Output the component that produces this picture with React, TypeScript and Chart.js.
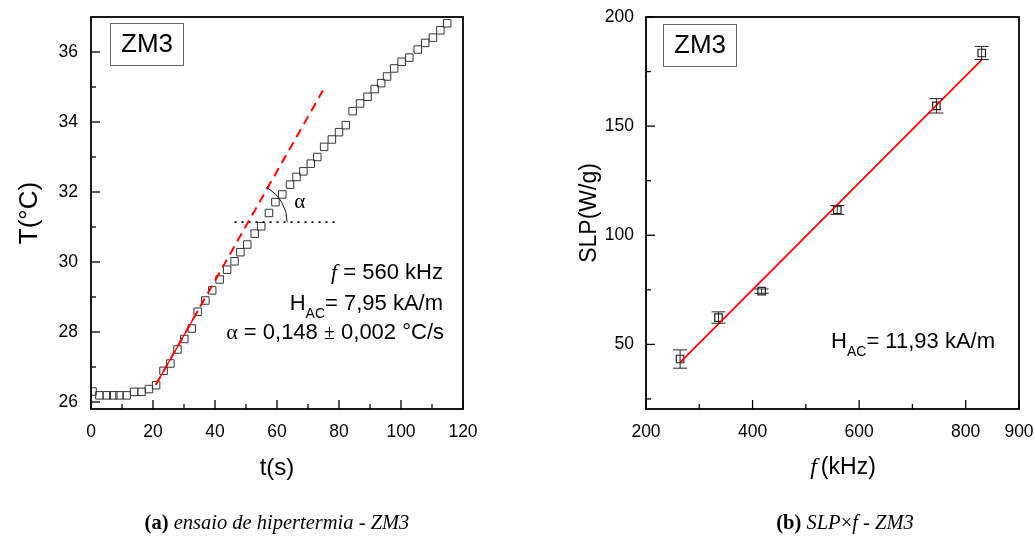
import React, { useEffect, useRef } from "react";
import { Chart, registerables } from "chart.js";

Chart.register(...registerables);

// ---------- Left panel: heating curve (ZM3) ----------
const timeS = [
  0.5, 2.7, 5.1, 7.2, 9.2, 11.5, 13.9, 16.3, 18.7, 21.0, 23.4, 25.6, 27.9, 30.1, 32.5, 34.4,
  36.9, 39.1, 41.5, 43.9, 46.3, 48.2, 50.4, 52.8, 54.9, 57.4, 59.5, 61.7, 64.2, 66.3, 68.5,
  70.9, 73.0, 75.2, 77.7, 80.0, 82.2, 84.4, 86.8, 89.2, 91.5, 93.6, 95.5, 97.8, 100.2, 102.7,
  105.4, 107.8, 110.3, 112.7, 114.9,
];
const tempC = [
  26.3, 26.19, 26.19, 26.19, 26.19, 26.19, 26.29, 26.29, 26.37, 26.48, 26.89, 27.1, 27.5, 27.8,
  28.1, 28.58, 28.9, 29.19, 29.5, 29.78, 30.02, 30.28, 30.5, 30.81, 31.02, 31.4, 31.71, 31.93,
  32.21, 32.43, 32.59, 32.81, 33.0, 33.29, 33.5, 33.71, 33.91, 34.31, 34.53, 34.72, 34.94,
  35.11, 35.3, 35.53, 35.72, 35.84, 36.07, 36.26, 36.41, 36.62, 36.82,
];
const fitTime = [20.9, 74.8];
const fitTemp = [26.49, 34.9];
const fitSolidTime = [20.9, 34.5];
const fitSolidTemp = [26.49, 28.61];
const refTime = [46.3, 79.3];
const refTemp = [31.14, 31.14];
const angleVertex = [50.7, 31.14];
const alphaLabelPos = [67.3, 31.69];

const leftXTicks = [0, 20, 40, 60, 80, 100, 120];
const leftXMinor = [10, 30, 50, 70, 90, 110];
const leftYTicks = [26, 28, 30, 32, 34, 36];
const leftYMinor = [27, 29, 31, 33, 35];

// ---------- Right panel: SLP x f ----------
const freqKHz = [264, 336, 417, 559, 745, 830];
const slpWg = [43.3, 62.3, 74.4, 111.6, 159.3, 183.5];
const slpErr = [4.2, 2.6, 1.0, 2.0, 3.3, 3.0];
const slpFitF = [264, 830];
const slpFitY = [41.8, 180.4];

const rightXTicks = [200, 400, 600, 800, 900];
const rightXMinor = [300, 500, 700];
const rightYTicks = [50, 100, 150, 200];
const rightYMinor = [25, 75, 125, 175];

const SANS = "'Liberation Sans', Arial, Helvetica, sans-serif";
const SERIF = "'Liberation Serif', 'Times New Roman', serif";

type Seg = { text: string; font: string; dy?: number };

function drawSegs(ctx: CanvasRenderingContext2D, segs: Seg[], xRight: number, baseline: number) {
  let w = 0;
  for (const s of segs) {
    ctx.font = s.font;
    w += ctx.measureText(s.text).width;
  }
  let x = xRight - w;
  ctx.textAlign = "left";
  ctx.textBaseline = "alphabetic";
  ctx.fillStyle = "#000";
  for (const s of segs) {
    ctx.font = s.font;
    ctx.fillText(s.text, x, baseline + (s.dy || 0));
    x += ctx.measureText(s.text).width;
  }
}

function drawFrameAndTicks(chart: any, xMaj: number[], xMin: number[], yMaj: number[], yMin: number[]) {
  const ctx: CanvasRenderingContext2D = chart.ctx;
  const { left, right, top, bottom } = chart.chartArea;
  const xs = chart.scales.x;
  const ys = chart.scales.y;
  ctx.save();
  ctx.strokeStyle = "#000";
  ctx.lineWidth = 1.3;
  const tick = (vals: number[], len: number, horiz: boolean) => {
    for (const v of vals) {
      ctx.beginPath();
      if (horiz) {
        const p = xs.getPixelForValue(v);
        ctx.moveTo(p, bottom);
        ctx.lineTo(p, bottom - len);
      } else {
        const p = ys.getPixelForValue(v);
        ctx.moveTo(left, p);
        ctx.lineTo(left + len, p);
      }
      ctx.stroke();
    }
  };
  tick(xMaj, 9, true);
  tick(xMin, 5, true);
  tick(yMaj, 9, false);
  tick(yMin, 5, false);
  ctx.lineWidth = 1.8;
  ctx.strokeRect(left, top, right - left, bottom - top);
  ctx.restore();
}

function drawTagBox(chart: any, dx: number, dy: number) {
  const ctx: CanvasRenderingContext2D = chart.ctx;
  const { left, top } = chart.chartArea;
  const x = left + dx;
  const y = top + dy;
  ctx.save();
  ctx.strokeStyle = "#666";
  ctx.lineWidth = 1;
  ctx.strokeRect(x + 0.5, y + 0.5, 73, 42);
  ctx.fillStyle = "#000";
  ctx.font = `26px ${SANS}`;
  ctx.textAlign = "center";
  ctx.textBaseline = "middle";
  ctx.fillText("ZM3", x + 37, y + 22);
  ctx.restore();
}

const leftDecor = {
  id: "leftDecor",
  afterDatasetsDraw(chart: any) {
    const ctx: CanvasRenderingContext2D = chart.ctx;
    const xs = chart.scales.x;
    const ys = chart.scales.y;
    const { right } = chart.chartArea;
    drawFrameAndTicks(chart, leftXTicks, leftXMinor, leftYTicks, leftYMinor);
    drawTagBox(chart, 19, 6);
    ctx.save();
    // angle arc
    const cx = xs.getPixelForValue(angleVertex[0]);
    const cy = ys.getPixelForValue(angleVertex[1]);
    ctx.strokeStyle = "#111";
    ctx.lineWidth = 1;
    ctx.beginPath();
    ctx.arc(cx, cy, 39, (-62 * Math.PI) / 180, 0);
    ctx.stroke();
    ctx.fillStyle = "#000";
    ctx.font = `21px ${SERIF}`;
    ctx.textAlign = "center";
    ctx.textBaseline = "middle";
    ctx.fillText("α", xs.getPixelForValue(alphaLabelPos[0]), ys.getPixelForValue(alphaLabelPos[1]));
    // annotations
    const xr = right - 20;
    drawSegs(ctx, [
      { text: "f", font: `italic 22px ${SERIF}` },
      { text: " = 560 kHz", font: `22px ${SANS}` },
    ], xr, 279);
    drawSegs(ctx, [
      { text: "H", font: `22px ${SANS}` },
      { text: "AC", font: `14px ${SANS}`, dy: 8 },
      { text: "= 7,95 kA/m", font: `22px ${SANS}` },
    ], xr, 310);
    drawSegs(ctx, [
      { text: "α", font: `22px ${SERIF}` },
      { text: " = 0,148 ", font: `22px ${SANS}` },
      { text: "±", font: `20px ${SERIF}` },
      { text: " 0,002 °C/s", font: `22px ${SANS}` },
    ], xr + 1, 339);
    ctx.restore();
  },
};

const rightDecor = {
  id: "rightDecor",
  afterDatasetsDraw(chart: any) {
    const ctx: CanvasRenderingContext2D = chart.ctx;
    const xs = chart.scales.x;
    const ys = chart.scales.y;
    const { right } = chart.chartArea;
    // error bars
    ctx.save();
    ctx.strokeStyle = "#222";
    ctx.lineWidth = 1;
    for (let i = 0; i < freqKHz.length; i++) {
      const px = xs.getPixelForValue(freqKHz[i]);
      const y1 = ys.getPixelForValue(slpWg[i] + slpErr[i]);
      const y2 = ys.getPixelForValue(slpWg[i] - slpErr[i]);
      ctx.beginPath();
      ctx.moveTo(px, y1);
      ctx.lineTo(px, y2);
      ctx.moveTo(px - 7, y1);
      ctx.lineTo(px + 7, y1);
      ctx.moveTo(px - 7, y2);
      ctx.lineTo(px + 7, y2);
      ctx.stroke();
    }
    ctx.restore();
    drawFrameAndTicks(chart, rightXTicks, rightXMinor, rightYTicks, rightYMinor);
    drawTagBox(chart, 17, 7);
    ctx.save();
    drawSegs(ctx, [
      { text: "H", font: `22px ${SANS}` },
      { text: "AC", font: `14px ${SANS}`, dy: 8 },
      { text: "= 11,93 kA/m", font: `22px ${SANS}` },
    ], right - 24, 348);
    // x-axis title: f (kHz)
    ctx.font = `italic 24px ${SERIF}`;
    const wf = ctx.measureText("f").width;
    ctx.font = `23px ${SANS}`;
    const wk = ctx.measureText("(kHz)").width;
    const gap = 4;
    const cxTitle = 843 - 517;
    const x0 = cxTitle - (wf + gap + wk) / 2;
    ctx.fillStyle = "#000";
    ctx.textAlign = "left";
    ctx.textBaseline = "middle";
    ctx.font = `italic 24px ${SERIF}`;
    ctx.fillText("f", x0, 468);
    ctx.font = `23px ${SANS}`;
    ctx.fillText("(kHz)", x0 + wf + gap, 468);
    ctx.restore();
  },
};

function axisCommon(extra: any) {
  return {
    type: "linear",
    grid: { display: false, drawTicks: false },
    border: { display: false },
    ...extra,
  };
}

function App() {
  const leftRef = useRef<HTMLCanvasElement | null>(null);
  const rightRef = useRef<HTMLCanvasElement | null>(null);

  useEffect(() => {
    const tickFont = { family: SANS, size: 17.5 };
    const left = new Chart(leftRef.current as HTMLCanvasElement, {
      type: "scatter",
      data: {
        datasets: [
          {
            data: fitTime.map((x, i) => ({ x, y: fitTemp[i] })),
            showLine: true,
            borderColor: "rgb(255,0,0)",
            borderWidth: 2,
            borderDash: [9, 6],
            pointRadius: 0,
          },
          {
            data: fitSolidTime.map((x, i) => ({ x, y: fitSolidTemp[i] })),
            showLine: true,
            borderColor: "rgb(255,0,0)",
            borderWidth: 1.2,
            pointRadius: 0,
          },
          {
            data: refTime.map((x, i) => ({ x, y: refTemp[i] })),
            showLine: true,
            borderColor: "#000",
            borderWidth: 1.8,
            borderDash: [2, 5],
            pointRadius: 0,
          },
          {
            data: timeS.map((x, i) => ({ x, y: tempC[i] })),
            pointStyle: "rect",
            pointRadius: 5.3,
            borderColor: "#333",
            backgroundColor: "rgba(255,255,255,0)",
            borderWidth: 1,
          },
        ],
      } as any,
      options: {
        animation: false,
        responsive: false,
        devicePixelRatio: 1,
        layout: { padding: { top: 17, right: 54, left: 0, bottom: 0 } },
        plugins: { legend: { display: false }, tooltip: { enabled: false } },
        scales: {
          x: axisCommon({
            min: 0,
            max: 120,
            afterBuildTicks: (s: any) => { s.ticks = leftXTicks.map((v) => ({ value: v })); },
            afterFit: (s: any) => { s.height = 127; s.paddingLeft = 0; s.paddingRight = 0; },
            ticks: { font: tickFont, color: "#000", padding: 13, maxRotation: 0, autoSkip: false, callback: (v: any) => String(v) },
            title: { display: true, text: "t(s)", font: { family: SANS, size: 24 }, color: "#000", padding: { top: 0, bottom: 53.6 } },
          }),
          y: axisCommon({
            min: 25.8,
            max: 37.0,
            afterBuildTicks: (s: any) => { s.ticks = leftYTicks.map((v) => ({ value: v })); },
            afterFit: (s: any) => { s.width = 91; s.paddingTop = 0; s.paddingBottom = 0; },
            ticks: { font: tickFont, color: "#000", padding: 13, autoSkip: false, callback: (v: any) => String(v) },
            title: { display: true, text: "T(°C)", font: { family: SANS, size: 26 }, color: "#000", padding: { top: 14.4, bottom: 0 } },
          }),
        },
      } as any,
      plugins: [leftDecor],
    });

    const right = new Chart(rightRef.current as HTMLCanvasElement, {
      type: "scatter",
      data: {
        datasets: [
          {
            data: slpFitF.map((x, i) => ({ x, y: slpFitY[i] })),
            showLine: true,
            borderColor: "rgb(255,0,0)",
            borderWidth: 1.8,
            pointRadius: 0,
          },
          {
            data: freqKHz.map((x, i) => ({ x, y: slpWg[i] })),
            pointStyle: "rect",
            pointRadius: 5.3,
            borderColor: "#222",
            backgroundColor: "rgba(255,255,255,0)",
            borderWidth: 1.2,
          },
        ],
      } as any,
      options: {
        animation: false,
        responsive: false,
        devicePixelRatio: 1,
        layout: { padding: { top: 17, right: 16, left: 0, bottom: 0 } },
        plugins: { legend: { display: false }, tooltip: { enabled: false } },
        scales: {
          x: axisCommon({
            min: 200,
            max: 900,
            afterBuildTicks: (s: any) => { s.ticks = rightXTicks.map((v) => ({ value: v })); },
            afterFit: (s: any) => { s.height = 127; s.paddingLeft = 0; s.paddingRight = 0; },
            ticks: { font: tickFont, color: "#000", padding: 13, maxRotation: 0, autoSkip: false, callback: (v: any) => String(v) },
            title: { display: false },
          }),
          y: axisCommon({
            min: 20.4,
            max: 200,
            afterBuildTicks: (s: any) => { s.ticks = rightYTicks.map((v) => ({ value: v })); },
            afterFit: (s: any) => { s.width = 129; s.paddingTop = 0; s.paddingBottom = 0; },
            ticks: { font: tickFont, color: "#000", padding: 12, autoSkip: false, callback: (v: any) => String(v) },
            title: { display: true, text: "SLP(W/g)", font: { family: SANS, size: 23 }, color: "#000", padding: { top: 59, bottom: 0 } },
          }),
        },
      } as any,
      plugins: [rightDecor],
    });

    return () => {
      left.destroy();
      right.destroy();
    };
  }, []);

  const capStyle: React.CSSProperties = {
    position: "absolute",
    top: 508,
    width: 400,
    textAlign: "center",
    fontFamily: SERIF,
    fontSize: 20.5,
    lineHeight: "28px",
    color: "#000",
    whiteSpace: "nowrap",
  };

  return (
    <div style={{ position: "absolute", left: 0, top: 0, width: 1035, height: 536, background: "#fff", overflow: "hidden" }}>
      <canvas ref={leftRef} width={517} height={536} style={{ position: "absolute", left: 0, top: 0, width: 517, height: 536 }} />
      <canvas ref={rightRef} width={518} height={536} style={{ position: "absolute", left: 517, top: 0, width: 518, height: 536 }} />
      <div style={{ ...capStyle, left: 277 - 200 }}>
        <b style={{ fontStyle: "normal" }}>(a)</b> <i>ensaio de hipertermia - ZM3</i>
      </div>
      <div style={{ ...capStyle, left: 845 - 200 }}>
        <b style={{ fontStyle: "normal" }}>(b)</b> <i>SLP</i>×<i>f - ZM3</i>
      </div>
    </div>
  );
}

export default App;
